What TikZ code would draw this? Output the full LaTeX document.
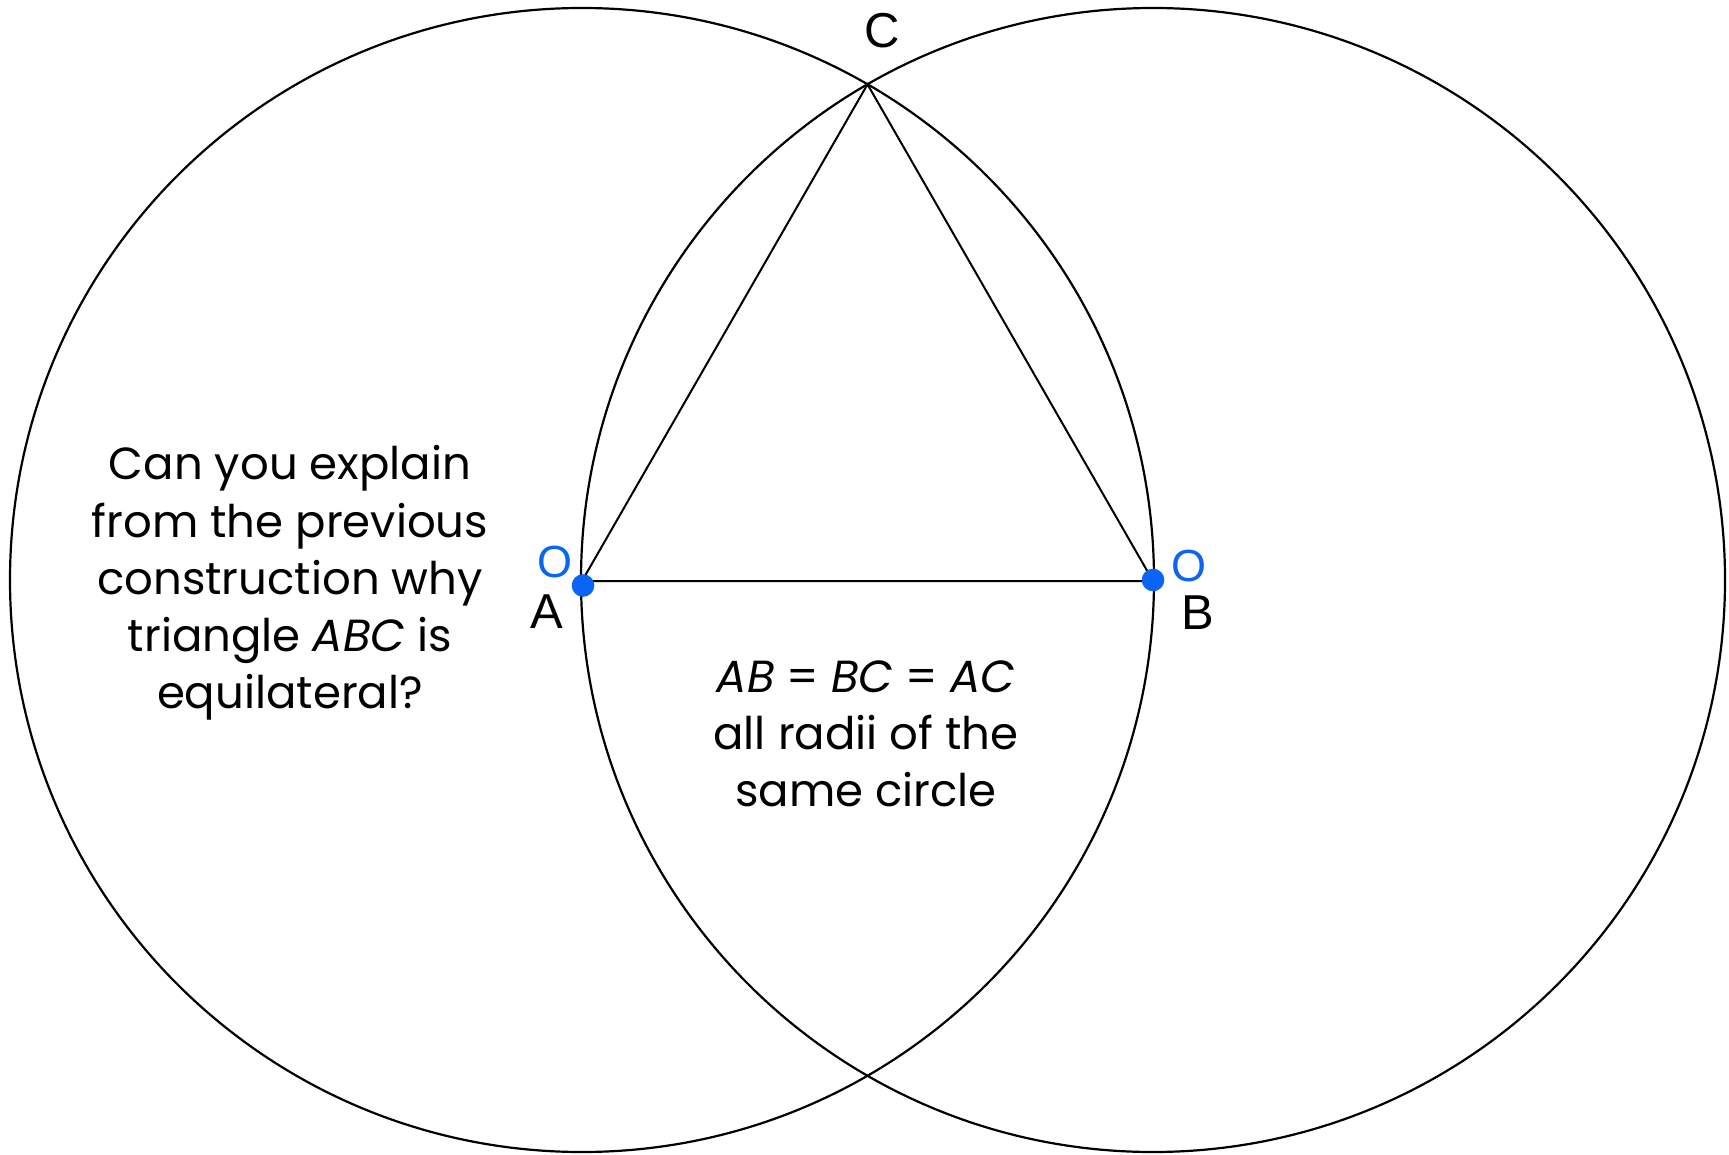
\documentclass[tikz,border=0pt]{standalone}
\usepackage{fontspec}
\setmainfont{Liberation Sans}
\newfontfamily\handfont{Poppins}
\usetikzlibrary{positioning}
\definecolor{ptblue}{HTML}{0A64F5}

\begin{document}
\begin{tikzpicture}[x=0.5pt, y=-0.5pt,
    arc/.style={line width=1.1pt},
    seg/.style={line width=1.0pt},
    dotpt/.style={circle, fill=ptblue, inner sep=0pt, minimum size=11.3pt},
    lbl/.style={inner sep=0pt, font=\fontsize{24.5}{29}\selectfont},
    olbl/.style={inner sep=0pt, text=ptblue, font=\fontsize{22.5}{27}\selectfont},
    note/.style={align=center, inner sep=0pt,
      font=\handfont\fontsize{22.5}{28.6}\selectfont}]

  %% ---- Parameters ----
  \pgfmathsetmacro{\rr}{572}
  \pgfmathsetmacro{\ax}{582}
  \pgfmathsetmacro{\bx}{1153}
  \pgfmathsetmacro{\yy}{580}

  %% ---- Derived ----
  \pgfmathsetmacro{\rpt}{\rr/2}
  \pgfmathsetmacro{\cx}{(\ax+\bx)/2}
  \pgfmathsetmacro{\cy}{\yy - \rr*sqrt(1-((\bx-\ax)/(2*\rr))^2)}

  \useasboundingbox (0,0) rectangle (1729,1155);

  %% ---- The two circles ----
  \draw[arc] (\ax,\yy) circle (\rpt pt);
  \draw[arc] (\bx,\yy) circle (\rpt pt);

  %% ---- Triangle ABC ----
  \coordinate (A) at (\ax,581);
  \coordinate (B) at (\bx,581);
  \coordinate (C) at (\cx,\cy);
  \draw[seg] (A) -- (B) -- (C) -- cycle;

  %% ---- Centre points ----
  \node[dotpt] (dotA) at (583,585.5) {};
  \node[dotpt] (dotB) at (1153,580) {};

  %% ---- Labels ----
  \node[olbl] (oA) at (555,562) {O};
  \node[lbl] (labA) at (547,612) {A};
  \node[olbl] (oB) at (1189,566) {O};
  \node[lbl] (labB) at (1197.5,613) {B};
  \node[lbl] (labC) at (882,31) {C};

  %% ---- Texts ----
  \node[note] (question) at (290,583)
    {Can you explain\\from the previous\\construction why\\triangle \textit{ABC} is\\equilateral?};
  \node[note] (answer) at (866,734)
    {\textit{AB} = \textit{BC} = \textit{AC}\\all radii of the\\same circle};

\end{tikzpicture}
\end{document}
